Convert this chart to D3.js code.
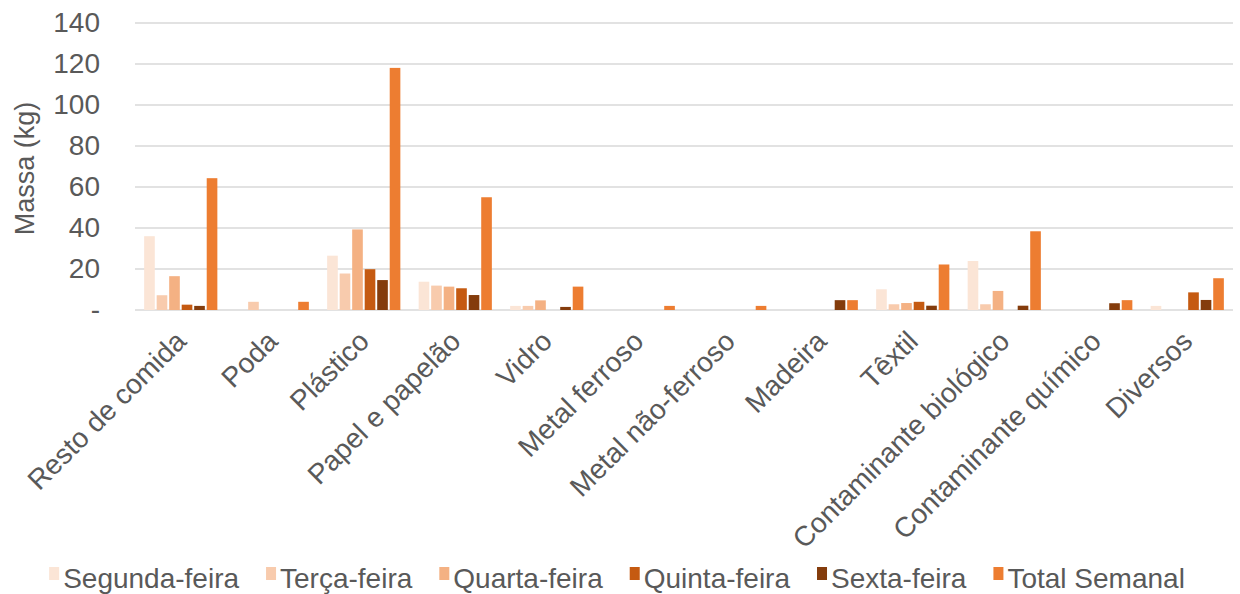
<!DOCTYPE html>
<html>
<head>
<meta charset="utf-8">
<script src="https://cdn.jsdelivr.net/npm/d3@7"></script>
<style>
  body { margin: 0; background: #fff; }
  text { font-family: "Liberation Sans", Arial, sans-serif; fill: #595959; }
</style>
</head>
<body>
<div id="chart"></div>
<script>
const categories = ["Resto de comida", "Poda", "Plástico", "Papel e papelão", "Vidro", "Metal ferroso",
  "Metal não-ferroso", "Madeira", "Têxtil", "Contaminante biológico", "Contaminante químico", "Diversos"];
const seriesNames = ["Segunda-feira", "Terça-feira", "Quarta-feira", "Quinta-feira", "Sexta-feira", "Total Semanal"];
const segunda = [36, 0, 26.5, 13.8, 2, 0, 0, 0, 10.1, 23.9, 0, 2];
const terca = [7.2, 4, 17.8, 11.9, 2, 0, 0, 0, 2.8, 2.8, 0, 0];
const quarta = [16.5, 0, 39.3, 11.4, 4.7, 0, 0, 0, 3.4, 9.3, 0, 0];
const quinta = [2.6, 0, 19.9, 10.6, 0, 0, 0, 0, 4, 0, 0, 8.6];
const sexta = [2, 0, 14.6, 7.3, 1.5, 0, 0, 4.8, 2.1, 2.1, 3.3, 4.9];
const totalSemanal = [64.3, 4, 118.1, 55, 11.4, 2, 2, 4.8, 22.2, 38.4, 4.8, 15.5];
const yTicks = [0, 20, 40, 60, 80, 100, 120, 140];
const colors = ["#fbe5d6", "#f8cbad", "#f4b183", "#c55a11", "#843c0c", "#ed7d31"];

const allSeries = [segunda, terca, quarta, quinta, sexta, totalSemanal];
const data = categories.map((c, i) => ({ cat: c, values: allSeries.map(s => s[i]) }));

const width = 1240, height = 594;
const margin = { top: 23, right: 7, bottom: 284, left: 135 };

const svg = d3.select("#chart").append("svg")
    .attr("width", width)
    .attr("height", height);

const x0 = d3.scaleBand()
    .domain(categories)
    .range([margin.left, width - margin.right])
    .paddingInner(0.2)
    .paddingOuter(0.1);

const x1 = d3.scaleBand()
    .domain(d3.range(seriesNames.length))
    .range([0, x0.bandwidth()])
    .paddingInner(0.15);

const y = d3.scaleLinear()
    .domain([0, 140])
    .range([height - margin.bottom, margin.top]);

// gridlines
svg.append("g")
    .selectAll("line")
    .data(yTicks)
    .join("line")
    .attr("x1", margin.left)
    .attr("x2", width - margin.right)
    .attr("y1", d => y(d))
    .attr("y2", d => y(d))
    .attr("stroke", "#d9d9d9")
    .attr("stroke-width", 1.5);

// y axis labels
const yAxis = g => g
    .attr("transform", `translate(${margin.left - 35}, 0)`)
    .call(d3.axisLeft(y).tickValues(yTicks).tickSize(0).tickPadding(0)
        .tickFormat(d => d === 0 ? "-" : d))
    .call(g => g.select(".domain").remove());

svg.append("g")
    .call(yAxis)
    .call(g => g.selectAll("text").attr("font-size", 28).style("fill", "#595959")
        .attr("font-family", "Liberation Sans, Arial, sans-serif"));

svg.append("text")
    .attr("transform", `translate(34, ${y(70) + 2}) rotate(-90)`)
    .attr("text-anchor", "middle")
    .attr("font-size", 27)
    .text("Massa (kg)");

// bars
svg.append("g")
    .selectAll("g")
    .data(data)
    .join("g")
    .attr("transform", d => `translate(${x0(d.cat)}, 0)`)
    .selectAll("rect")
    .data(d => d.values.map((v, i) => ({ v, i })))
    .join("rect")
    .attr("x", d => x1(d.i))
    .attr("y", d => y(d.v))
    .attr("width", x1.bandwidth())
    .attr("height", d => y(0) - y(d.v))
    .attr("fill", d => colors[d.i]);

// x labels, rotated
svg.append("g")
    .selectAll("text")
    .data(categories)
    .join("text")
    .attr("transform", d => `translate(${x0(d) + x0.bandwidth() / 2 + 7}, ${y(0) + 33}) rotate(-45)`)
    .attr("text-anchor", "end")
    .attr("font-size", 28)
    .text(d => d);

// legend
const legend = svg.append("g").attr("transform", `translate(0, ${height - 6})`);
const items = legend.selectAll("g")
    .data(seriesNames)
    .join("g");
items.append("rect")
    .attr("y", -21)
    .attr("width", 10)
    .attr("height", 13)
    .attr("fill", (d, i) => colors[i]);
items.append("text")
    .attr("x", 14)
    .attr("font-size", 28)
    .text(d => d);

const gap = 27;
const widths = [];
items.each(function () {
    widths.push(d3.select(this).select("text").node().getComputedTextLength() + 14);
});
const totalW = d3.sum(widths) + gap * (widths.length - 1);
let xPos = 617 - totalW / 2;
items.attr("transform", (d, i) => {
    const t = `translate(${xPos}, 0)`;
    xPos += widths[i] + gap;
    return t;
});
</script>
</body>
</html>
